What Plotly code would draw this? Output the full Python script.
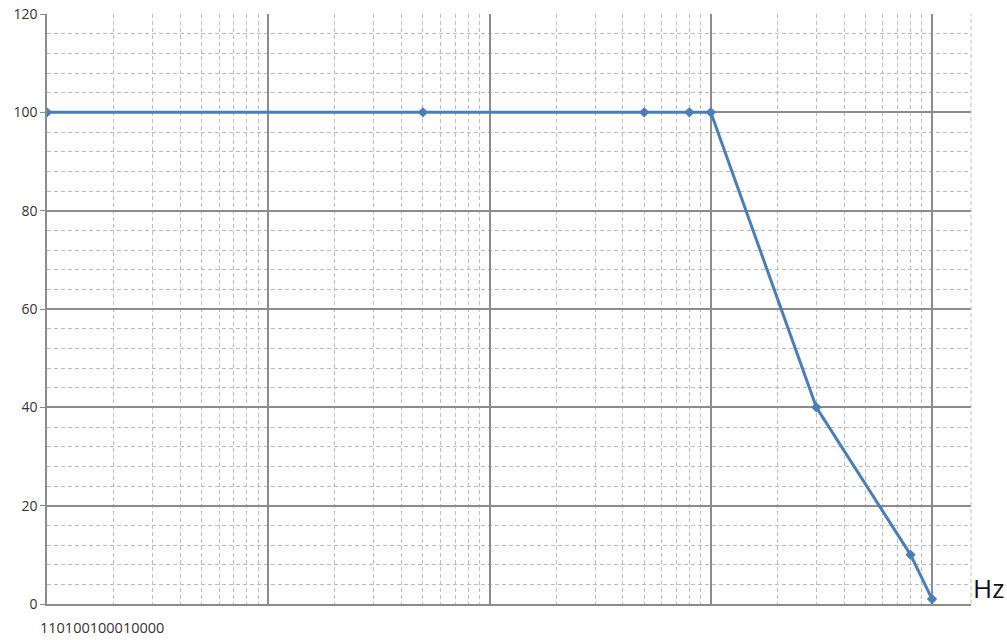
import plotly.graph_objects as go

# frequency response
freq_hz = [1, 50, 500, 800, 1000, 3000, 8000, 10000]
level = [100, 100, 100, 100, 100, 40, 10, 1]

x_tick_text = "110100100010000"
y_ticks = [0, 20, 40, 60, 80, 100, 120]

fig = go.Figure()
fig.add_trace(go.Scatter(
    x=freq_hz, y=level, mode="lines+markers",
    line=dict(color="#4a7ebb", width=3),
    marker=dict(symbol="diamond", size=8, color="#4a7ebb"),
    showlegend=False,
))

grid_major = "#8c8c8c"
grid_minor = "#bcbcbc"

fig.update_xaxes(
    type="log", range=[0, 4.176],
    dtick=1, showticklabels=False,
    showgrid=True, gridcolor=grid_major, gridwidth=1.5,
    minor=dict(dtick="D1", showgrid=True, gridcolor=grid_minor,
               griddash="4px,3px", gridwidth=1),
    showline=True, linecolor=grid_major, linewidth=1.5,
    zeroline=False, ticks="", automargin=False,
)
fig.update_yaxes(
    range=[0, 120], tickvals=y_ticks,
    showgrid=True, gridcolor=grid_major, gridwidth=1.5,
    minor=dict(dtick=4, showgrid=True, gridcolor=grid_minor,
               griddash="4px,3px", gridwidth=1),
    showline=True, linecolor=grid_major, linewidth=1.5,
    zeroline=False, ticks="outside", ticklen=5, tickcolor=grid_major,
    tickfont=dict(size=14, color="#333333"), automargin=False,
)

# dashed right edge of the plot area
fig.add_shape(type="line", xref="paper", yref="paper", x0=1, x1=1, y0=0, y1=1,
              line=dict(color=grid_minor, width=1, dash="4px,3px"))

fig.add_annotation(
    text=x_tick_text, xref="paper", yref="paper", x=-0.01, y=-0.02,
    xanchor="left", yanchor="top", showarrow=False,
    font=dict(size=14.5, color="#333333"),
)
fig.add_annotation(
    text="Hz", xref="paper", yref="y", x=1.0, y=3.2,
    xanchor="left", yanchor="middle", showarrow=False,
    font=dict(size=26, color="#111111"),
)

fig.update_layout(
    width=1007, height=640,
    margin=dict(l=47, r=36, t=14, b=36),
    paper_bgcolor="white", plot_bgcolor="white",
    font=dict(family="Open Sans, Liberation Sans, sans-serif"),
)

# drop the page's default body margin so the figure fills the window
fig.write_html("out.html", config={"displayModeBar": False},
               post_script="document.body.style.margin='0';")
